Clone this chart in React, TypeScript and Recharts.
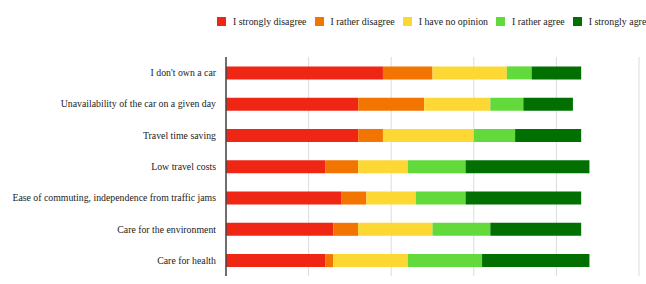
import { BarChart, Bar, XAxis, YAxis, CartesianGrid, Legend } from 'recharts';

const reasons = [
  "I don't own a car",
  'Unavailability of the car on a given day',
  'Travel time saving',
  'Low travel costs',
  'Ease of commuting, independence from traffic jams',
  'Care for the environment',
  'Care for health',
];

const stronglyDisagree = [19, 16, 16, 12, 14, 13, 12];
const ratherDisagree = [6, 8, 3, 4, 3, 3, 1];
const noOpinion = [9, 8, 11, 6, 6, 9, 9];
const ratherAgree = [3, 4, 5, 7, 6, 7, 9];
const stronglyAgree = [6, 6, 8, 15, 14, 11, 13];

const xTicks = [0, 10, 20, 30, 40, 50];

const series = [
  { key: 'sd', name: 'I strongly disagree', color: '#EF2614', values: stronglyDisagree },
  { key: 'rd', name: 'I rather disagree', color: '#F17500', values: ratherDisagree },
  { key: 'no', name: 'I have no opinion', color: '#FDD733', values: noOpinion },
  { key: 'ra', name: 'I rather agree', color: '#63DA3B', values: ratherAgree },
  { key: 'sa', name: 'I strongly agree', color: '#017001', values: stronglyAgree },
];

const data = reasons.map((reason, i) => {
  const row: Record<string, string | number> = { reason };
  series.forEach((s) => (row[s.key] = s.values[i]));
  return row;
});

const font = '"Liberation Serif", "Times New Roman", serif';

function LegendRow() {
  return (
    <div style={{ display: 'flex', alignItems: 'center', fontFamily: font, fontSize: 9.9, color: '#222', whiteSpace: 'nowrap' }}>
      {series.map((s) => (
        <div key={s.key} style={{ display: 'flex', alignItems: 'center', marginRight: 8 }}>
          <span style={{ width: 9, height: 9, background: s.color, display: 'inline-block', marginRight: 7 }} />
          <span>{s.name}</span>
        </div>
      ))}
    </div>
  );
}

function ReasonTick({ x, y, payload }: any) {
  return (
    <text x={x - 2} y={y} dy={3.5} textAnchor="end" fontFamily={font} fontSize={9.8} fill="#222">
      {payload.value}
    </text>
  );
}

export default function App() {
  return (
    <div style={{ position: 'absolute', left: 0, top: 0, width: 646, height: 284, overflow: 'hidden', background: '#fff' }}>
      <BarChart
        width={646}
        height={300}
        data={data}
        layout="vertical"
        barCategoryGap="30%"
        margin={{ top: 57, right: 7, bottom: 0, left: 0 }}
      >
        <CartesianGrid horizontal={false} stroke="#dcdcdc" />
        <XAxis
          type="number"
          domain={[0, 50]}
          ticks={xTicks}
          axisLine={false}
          tickLine={false}
          tick={{ fontFamily: font, fontSize: 10, fill: '#444' }}
          height={24}
        />
        <YAxis
          type="category"
          dataKey="reason"
          width={226}
          axisLine={{ stroke: '#444', strokeWidth: 1.5 }}
          tickLine={false}
          tick={<ReasonTick />}
        />
        <Legend
          layout="horizontal"
          verticalAlign="middle"
          align="center"
          content={() => <LegendRow />}
          wrapperStyle={{ top: 16, left: 217, width: 460 }}
        />
        {series.map((s) => (
          <Bar key={s.key} dataKey={s.key} name={s.name} stackId="a" fill={s.color} isAnimationActive={false} />
        ))}
      </BarChart>
    </div>
  );
}
